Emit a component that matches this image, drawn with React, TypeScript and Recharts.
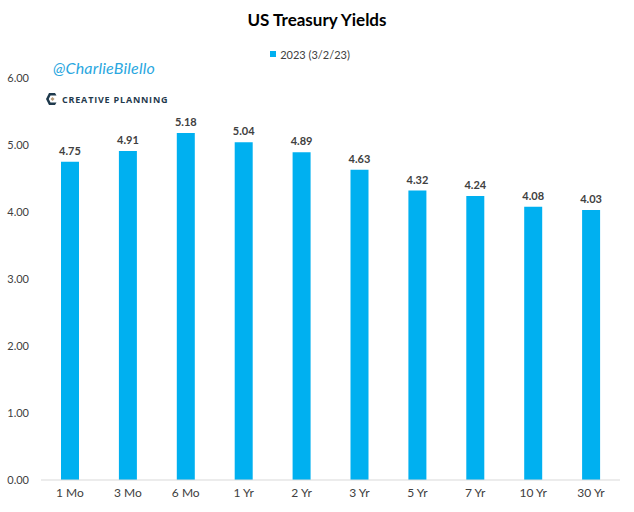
import React from "react";
import { BarChart, Bar, XAxis, YAxis, Legend, LabelList } from "recharts";

const categories = ["1 Mo", "3 Mo", "6 Mo", "1 Yr", "2 Yr", "3 Yr", "5 Yr", "7 Yr", "10 Yr", "30 Yr"];
const yields2023 = [4.75, 4.91, 5.18, 5.04, 4.89, 4.63, 4.32, 4.24, 4.08, 4.03];
const yTicks = [0, 1, 2, 3, 4, 5, 6];
const seriesName = "2023 (3/2/23)";

const data = categories.map((c, i) => ({ name: c, value: yields2023[i] }));

const FONT = "Lato, 'Open Sans', sans-serif";
const BAR = "#00B0F0";

const LegendContent = () => (
  <div style={{ display: "flex", justifyContent: "center", alignItems: "center", height: 20, fontFamily: FONT, fontSize: 11, color: "#404040" }}>
    <span style={{ display: "inline-block", width: 6, height: 6, background: BAR, marginRight: 4 }} />
    <span>{seriesName}</span>
  </div>
);

export default function App() {
  return (
    <div style={{ position: "absolute", left: 0, top: 0, width: 634, height: 512, background: "#fff", fontFamily: FONT }}>
      <div style={{ position: "absolute", left: 0, width: 634, top: 9, textAlign: "center", fontSize: 17, fontWeight: 700, color: "#000" }}>
        US Treasury Yields
      </div>
      <div style={{ position: "absolute", left: 53, top: 58, fontSize: 16, fontStyle: "italic", color: "#2AA7E0", letterSpacing: 0.2 }}>
        @CharlieBilello
      </div>
      <div style={{ position: "absolute", left: 45, top: 91, display: "flex", alignItems: "center" }}>
        <svg width="14" height="16" viewBox="0 0 14 16">
          <path d="M10 2 L4 2 L1 8 L4 14 L10 14 L11.5 11.5 L5.5 11.5 L3.8 8 L5.5 4.5 L11.5 4.5 Z" fill="#1F3A4D" />
          <path d="M7.5 6 L9.5 8 L7.5 10 L5.5 8 Z" fill="#B79A77" />
        </svg>
        <span style={{ marginLeft: 3, fontSize: 9, fontWeight: 700, letterSpacing: 0.8, color: "#1F3A4D", fontFamily: "'Open Sans', sans-serif" }}>
          CREATIVE PLANNING
        </span>
      </div>
      <BarChart width={634} height={512} data={data} margin={{ top: 58, right: 14, bottom: 2, left: 0 }}>
        <Legend verticalAlign="top" align="center" content={<LegendContent />} wrapperStyle={{ top: 44 }} />
        <XAxis
          dataKey="name"
          axisLine={{ stroke: "#D9D9D9" }}
          tickLine={false}
          tick={{ fill: "#404040", fontSize: 12, fontFamily: FONT }}
          interval={0}
        />
        <YAxis
          width={41}
          domain={[0, 6]}
          ticks={yTicks}
          axisLine={false}
          tickLine={false}
          tickMargin={6}
          tickFormatter={(v: number) => v.toFixed(2)}
          tick={{ fill: "#404040", fontSize: 11, fontFamily: FONT }}
        />
        <Bar dataKey="value" name={seriesName} fill={BAR} barSize={18} isAnimationActive={false}>
          <LabelList
            dataKey="value"
            position="top"
            offset={7}
            formatter={(v: number) => v.toFixed(2)}
            style={{ fill: "#404040", fontSize: 11, fontWeight: 700, fontFamily: FONT }}
          />
        </Bar>
      </BarChart>
    </div>
  );
}
